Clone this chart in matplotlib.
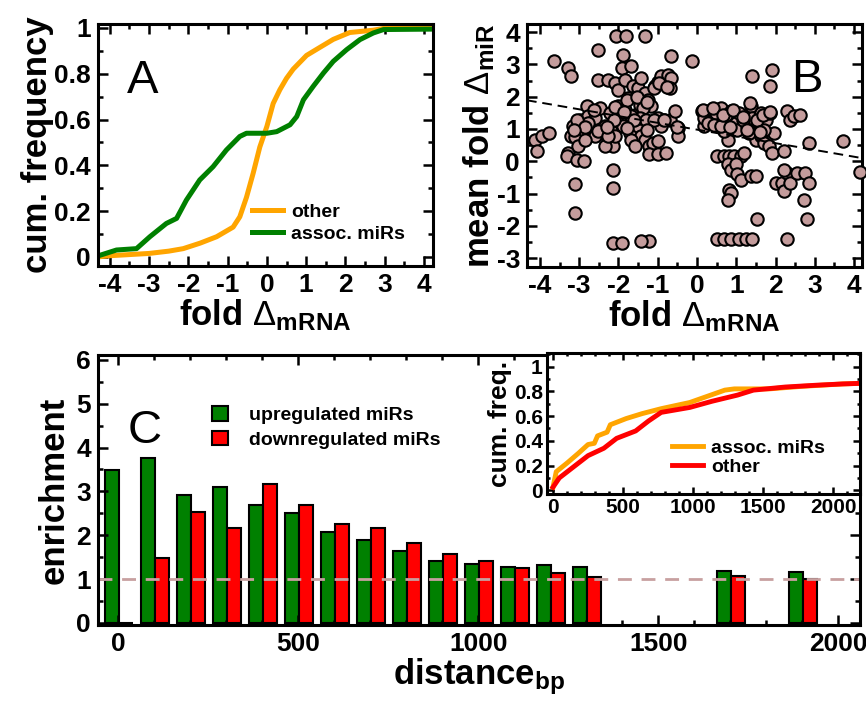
import numpy as np
import matplotlib
matplotlib.use("Agg")
from matplotlib import pyplot as plt
from matplotlib.ticker import MultipleLocator, FuncFormatter

# ---- panel A : cumulative distributions of fold change
other_x = [-4.3, -4.0, -3.0, -2.5, -2.13, -1.7, -1.28, -0.86, -0.69, -0.52, -0.35, -0.18, 0.0,
           0.16, 0.33, 0.5, 0.67, 1.01, 1.3, 1.69, 2.11, 2.7, 3.05, 4.3]
other_y = [0.0, 0.005, 0.015, 0.025, 0.036, 0.06, 0.088, 0.13, 0.175, 0.26, 0.365, 0.48, 0.57,
           0.67, 0.73, 0.78, 0.82, 0.88, 0.91, 0.95, 0.98, 0.99, 1.0, 1.0]
assoc_x = [-4.3, -4.25, -3.83, -3.32, -2.98, -2.56, -2.3, -2.05, -1.71, -1.37, -1.03, -0.69, -0.52,
           0.0, 0.25, 0.59, 0.76, 0.93, 1.18, 1.44, 1.69, 2.03, 2.37, 2.71, 2.97, 4.3]
assoc_y = [0.005, 0.007, 0.03, 0.036, 0.088, 0.146, 0.168, 0.248, 0.336, 0.394, 0.467, 0.526, 0.54,
           0.54, 0.547, 0.577, 0.613, 0.686, 0.745, 0.803, 0.854, 0.905, 0.949, 0.978, 0.993, 0.995]

# ---- panel B : scatter of mean miR fold change vs mRNA fold change
scat_x = [-4.12, -4.08, -3.95, -3.78, -3.63, -3.29, -3.21, -3.29, -3.31, -3.21, -3.15, -3.11, -3.06,
          -2.89, -3.11, -3.11, -3.02, -2.98, -2.81, -2.77, -2.89, -2.68, -2.60, -2.51, -2.53, -2.47,
          -2.43, -2.35, -2.26, -2.22, -2.18, -2.14, -2.14, -2.14, -2.14, -1.91, -2.05, -1.80, -1.33,
          -1.88, -1.92, -2.09, -2.01, -1.84, -1.67, -1.63, -1.76, -2.01, -1.84, -2.05, -1.88, -2.09,
          -1.71, -1.50, -1.59, -1.46, -1.50, -1.42, -1.33, -1.25, -1.16, -1.37, -1.46, -1.29, -1.42,
          -1.33, -1.21, -1.12, -1.00, -1.21, -1.00, -0.78, -1.21, -1.42, -1.08, -1.00, -0.91, -0.83,
          -0.74, -0.66, -0.70, -0.66, -1.00, -0.83, -0.70, -0.91, -0.57, -0.49, -0.49, -0.14, -1.67,
          -1.67, -1.59, -2.35, -2.60, -2.51, -2.85, -2.77, -2.26,
          -2.62, -2.09, -1.78, -1.53, -1.27, -1.10, -0.97, -0.76, -1.86, -1.60, -2.11, -1.10, -0.84,
          -3.06, -2.85, -3.13, -2.29, -1.78, -1.27, -0.51,
          0.14, 0.19, 0.17, 0.35, 0.40, 0.48, 0.52, 0.61, 0.65, 0.69, 0.78, 0.82, 0.86, 0.90, 0.99,
          0.95, 1.03, 1.07, 1.11, 1.20, 0.78, 0.86, 0.99, 1.03, 1.11, 0.82, 0.86, 0.78, 0.52, 0.69,
          0.86, 1.07, 1.24, 1.41, 1.37, 1.50, 1.54, 1.28, 1.24, 1.37, 1.41, 1.41, 1.50, 1.50, 1.58,
          1.62, 1.66, 1.71, 1.75, 1.83, 1.87, 1.92, 1.87, 1.92, 1.96, 2.00, 2.21, 2.17, 2.21, 2.30,
          2.38, 2.21, 2.30, 2.38, 2.46, 2.63, 2.55, 2.72, 2.76, 2.84, 2.84, 2.80, 2.30, 3.73, 4.15,
          0.27, 0.44, 0.73, 1.16, 1.33, 0.69, 0.61, 1.71, 1.62,
          0.15, 0.41, 0.66, 0.92, 1.17, 1.35, 1.53, 1.68, 1.86, 0.84, 1.27, 1.60]
scat_y = [0.67, 0.31, 0.77, 0.88, 3.11, 2.89, 2.65, 0.26, 0.15, 0.77, 1.08, 0.75, 0.05,
          0.0, -0.72, -1.60, 0.46, 1.29, 1.70, 1.39, 0.98, 1.08, 1.34, 3.45, 2.51, 1.65,
          0.88, 1.08, 2.53, 1.49, 0.93, 0.46, -0.26, -0.82, -2.53, -2.53, 3.87, 3.87, 3.87,
          3.30, 2.89, 2.42, 2.22, 2.53, 2.94, 2.32, 1.96, 1.70, 1.60, 1.29, 1.08, 0.77,
          0.88, 1.08, 1.44, 1.75, 2.27, 2.58, 2.11, 1.91, 1.70, 1.65, 1.34, 1.29, 0.77,
          0.67, 0.46, 0.57, 0.62, 0.21, 0.21, 0.26, -2.47, -2.47, 2.32, 2.47, 2.63, 2.42,
          2.68, 2.58, 2.27, 3.25, 1.34, 1.29, 1.29, 1.08, 1.55, 1.03, 0.77, 3.11, 1.39,
          0.67, 0.46, 0.46, 0.77, 0.93, 0.67, 1.19, 0.77,
          1.58, 1.67, 1.89, 1.98, 1.83, 2.26, 2.41, 2.29, 1.52, 1.27, 1.27, 1.27, 1.27,
          1.27, 1.05, 0.96, 1.05, 1.02, 0.96, 1.05,
          1.55, 1.08, 1.34, 1.60, 1.29, 1.49, 0.15, 1.65, 1.29, 0.15, 0.67, 0.15, 1.55, 1.39, 1.19,
          0.15, 0.98, 1.49, 0.15, 0.26, -0.10, -0.26, -0.10, -0.41, -0.57, -0.88, -0.98, -1.19, -2.42, -2.42,
          -2.42, -2.42, -2.42, -2.42, -0.46, -0.46, -1.80, 1.08, 1.34, 1.70, 1.34, 2.63, 0.93, 0.67, 1.19,
          0.77, 1.44, 0.57, 1.29, 0.46, 1.49, 0.26, 2.32, 2.84, 0.88, -0.67, 0.31, -0.67, -0.93, -0.36,
          -0.67, -0.26, 1.55, 1.29, 1.39, 1.44, -0.36, -1.19, -0.36, 0.57, -0.67, -1.80, -2.42, 0.62, -0.34,
          1.19, 1.13, 1.44, 1.29, 0.88, 0.93, 1.08, 0.98, 1.49,
          1.58, 1.64, 1.42, 1.58, 1.36, 1.80, 1.27, 1.42, 1.52, 1.05, 0.96, 0.90]
fit_intercept = 0.98
fit_slope = -0.21

# ---- panel C : enrichment by distance
bin_pos = [0, 100, 200, 300, 400, 500, 600, 700, 800, 900, 1000, 1100, 1200, 1300, 1700, 1900]
up_enr = [3.49, 3.76, 2.91, 3.10, 2.68, 2.51, 2.07, 1.88, 1.65, 1.41, 1.35, 1.27, 1.33, 1.27, 1.19, 1.16]
down_enr = [0.0, 1.47, 2.53, 2.16, 3.17, 2.68, 2.26, 2.16, 1.82, 1.58, 1.41, 1.24, 1.13, 1.04, 1.07, 0.99]

# ---- inset : cumulative distance distributions
ins_assoc_x = [0, 23, 100, 182, 250, 295, 318, 386, 409, 522, 636, 772, 976, 1226, 1294, 1544, 1770, 2066, 2200]
ins_assoc_y = [0.025, 0.15, 0.22, 0.30, 0.37, 0.38, 0.44, 0.47, 0.53, 0.58, 0.62, 0.66, 0.71, 0.81, 0.82, 0.82, 0.84, 0.86, 0.865]
ins_other_x = [0, 45, 136, 250, 363, 454, 590, 681, 772, 976, 1135, 1317, 1430, 1657, 1884, 2066, 2200]
ins_other_y = [0.025, 0.10, 0.18, 0.28, 0.34, 0.42, 0.48, 0.56, 0.63, 0.67, 0.72, 0.77, 0.81, 0.835, 0.85, 0.86, 0.865]

ORANGE = '#ffa500'
GREEN = '#008000'
RED = '#ff0000'
PINK = '#c49c9c'

plt.rcParams['font.family'] = ['Liberation Sans', 'DejaVu Sans']
plt.rcParams['font.weight'] = 'bold'
plt.rcParams['axes.labelweight'] = 'bold'
plt.rcParams['axes.unicode_minus'] = False
plt.rcParams['mathtext.fontset'] = 'custom'
plt.rcParams['mathtext.rm'] = 'Liberation Sans:weight=normal'
plt.rcParams['mathtext.bf'] = 'Liberation Sans:weight=bold'
plt.rcParams['mathtext.it'] = 'Liberation Sans:italic'

fmt = FuncFormatter(lambda v, p: f'{v + 0:g}')


def style(ax, xmaj, xmin, ymaj, ymin, size=19, big=7, small=3.5, pad=5):
    ax.xaxis.set_major_locator(MultipleLocator(xmaj))
    ax.xaxis.set_minor_locator(MultipleLocator(xmin))
    ax.yaxis.set_major_locator(MultipleLocator(ymaj))
    ax.yaxis.set_minor_locator(MultipleLocator(ymin))
    ax.xaxis.set_major_formatter(fmt)
    ax.yaxis.set_major_formatter(fmt)
    ax.tick_params(which='both', direction='in', top=True, right=True, width=1.8)
    ax.tick_params(which='major', length=big, labelsize=size, pad=pad)
    ax.tick_params(which='minor', length=small)
    for s in ax.spines.values():
        s.set_linewidth(2.2)


fig = plt.figure(figsize=(8.66, 7.01), dpi=100)
axA = fig.add_axes([0.1132, 0.6205, 0.3868, 0.3452])
axB = fig.add_axes([0.6085, 0.619, 0.3868, 0.3466])
axC = fig.add_axes([0.1132, 0.1084, 0.88, 0.385])
axI = fig.add_axes([0.6316, 0.2953, 0.3614, 0.2011])

# A
axA.plot(other_x, other_y, color=ORANGE, lw=3.6, label='other')
axA.plot(assoc_x, assoc_y, color=GREEN, lw=3.6, label='assoc. miRs')
axA.set_xlim(-4.3, 4.23)
axA.set_ylim(-0.04, 1.017)
style(axA, 1, 0.5, 0.2, 0.1)
axA.set_xlabel(r'fold $\Delta_{\mathbf{mRNA}}$', fontsize=25, labelpad=0)
axA.set_ylabel('cum. frequency', fontsize=25, labelpad=0)
axA.text(0.087, 0.715, 'A', transform=axA.transAxes, fontsize=34, fontweight='normal')
axA.legend(loc='upper left', bbox_to_anchor=(0.46, 0.26), frameon=False, fontsize=14,
           handlelength=1.6, handletextpad=0.4, borderpad=0, borderaxespad=0, labelspacing=0.25)

# B
axB.scatter(scat_x, scat_y, s=80, c=PINK, edgecolors='black', linewidths=1.5, zorder=3, clip_on=False)
xx = np.array([-4.33, 4.2])
axB.plot(xx, fit_intercept + fit_slope * xx, color='black', ls=(0, (5, 3)), lw=1.4, zorder=4)
axB.set_xlim(-4.33, 4.2)
axB.set_ylim(-3.28, 4.25)
style(axB, 1, 0.5, 1, 0.5)
axB.set_xlabel(r'fold $\Delta_{\mathbf{mRNA}}$', fontsize=25, labelpad=0)
axB.set_ylabel(r'mean fold $\Delta_{\mathbf{miR}}$', fontsize=25, labelpad=0)
axB.text(0.79, 0.72, 'B', transform=axB.transAxes, fontsize=34, fontweight='normal')

# C
pos = np.array(bin_pos)
axC.bar(pos - 37, up_enr, width=39, align='edge', color=GREEN, edgecolor='black', lw=1.5,
        label='upregulated miRs')
axC.bar(pos + 2, down_enr, width=39, align='edge', color=RED, edgecolor='black', lw=1.5,
        label='downregulated miRs')
axC.axhline(1, color='#c8a0a0', ls=(0, (5, 3.5)), lw=2)
axC.set_xlim(-56, 2061)
axC.set_ylim(-0.05, 6.11)
style(axC, 500, 100, 1, 0.5)
axC.set_xlabel(r'distance$_{\mathbf{bp}}$', fontsize=25, labelpad=0)
axC.set_ylabel('enrichment', fontsize=25, labelpad=4)
axC.text(0.039, 0.674, 'C', transform=axC.transAxes, fontsize=34, fontweight='normal')
axC.legend(loc='upper left', bbox_to_anchor=(0.15, 0.81), frameon=False, fontsize=14,
           handlelength=0.8, handleheight=0.75, handletextpad=1.1, borderpad=0, borderaxespad=0,
           labelspacing=0.35)

# inset
axI.plot(ins_assoc_x, ins_assoc_y, color=ORANGE, lw=3.5, label='assoc. miRs')
axI.plot(ins_other_x, ins_other_y, color=RED, lw=3.5, label='other')
axI.set_xlim(-43, 2190)
axI.set_ylim(-0.03, 1.11)
style(axI, 500, 100, 0.2, 0.1, size=15, big=5, small=2.5, pad=3)
axI.set_ylabel('cum. freq.', fontsize=19, labelpad=1)
axI.legend(loc='upper left', bbox_to_anchor=(0.40, 0.39), frameon=False, fontsize=14,
           handlelength=1.6, handletextpad=0.4, borderpad=0, borderaxespad=0, labelspacing=0.1)

fig.savefig('out.png', dpi=100)
